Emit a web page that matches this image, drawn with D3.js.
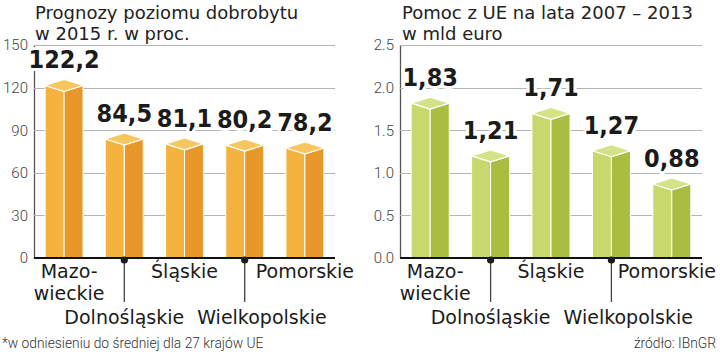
<!DOCTYPE html>
<html>
<head>
<meta charset="utf-8">
<script src="https://cdn.jsdelivr.net/npm/d3@7"></script>
<style>
  html, body { margin: 0; padding: 0; background: #fff; }
  svg { display: block; }
</style>
</head>
<body>
<svg id="chart" width="720" height="356"></svg>
<script>
// ---- data ----
const categories = ["Mazowieckie", "Dolnośląskie", "Śląskie", "Wielkopolskie", "Pomorskie"];
const categoryLines = [["Mazo-", "wieckie"], ["Dolnośląskie"], ["Śląskie"], ["Wielkopolskie"], ["Pomorskie"]];
const categoryRow = [1, 2, 1, 2, 1];
const wealthValues = [122.2, 84.5, 81.1, 80.2, 78.2];
const wealthLabels = ["122,2", "84,5", "81,1", "80,2", "78,2"];
const wealthTicks = [0, 30, 60, 90, 120, 150];
const aidValues = [1.83, 1.21, 1.71, 1.27, 0.88];
const aidLabels = ["1,83", "1,21", "1,71", "1,27", "0,88"];
const aidTicks = [0, 0.5, 1.0, 1.5, 2.0, 2.5];
const titleLeft = ["Prognozy poziomu dobrobytu", "w 2015 r. w proc."];
const titleRight = ["Pomoc z UE na lata 2007 – 2013", "w mld euro"];
const footnote = "*w odniesieniu do średniej dla 27 krajów UE";
const source = "źródło: IBnGR";

const svg = d3.select("#chart");
const BASE = 258, TOP = 45;

function drawPanel(opts) {
  const g = svg.append("g");
  const x = d3.scaleBand().domain(categories).range([opts.x0, opts.x1])
    .paddingInner(0.37).paddingOuter(0.185);
  const y = d3.scaleLinear().domain([0, opts.max]).range([BASE, TOP]);

  // title
  const t = g.append("text").attr("x", opts.titleX).attr("y", 19)
    .attr("font-family", "DejaVu Sans, sans-serif").attr("font-size", 18).attr("fill", "#222");
  opts.title.forEach((line, i) => {
    t.append("tspan").attr("x", opts.titleX).attr("y", 19 + i * 21).text(line);
  });

  // y axis via d3.axisLeft
  const axis = d3.axisLeft(y).tickValues(opts.ticks).tickFormat(opts.fmt).tickSize(0).tickPadding(6);
  const ag = g.append("g").attr("transform", `translate(${opts.x0},0)`).call(axis);
  ag.select(".domain").attr("stroke", "#555").attr("stroke-width", 1.3);
  ag.selectAll("text").attr("font-family", "Roboto, sans-serif").attr("font-weight", 300)
    .attr("font-size", 15).attr("fill", "#444");

  // grid lines
  g.append("g").selectAll("line").data(opts.ticks.filter(d => d > 0)).join("line")
    .attr("x1", opts.x0).attr("x2", opts.x1)
    .attr("y1", d => Math.round(y(d)) + 0.5).attr("y2", d => Math.round(y(d)) + 0.5)
    .attr("stroke", "#b4b4b4").attr("stroke-width", 1);

  // bars (3D boxes)
  const bw = x.bandwidth();
  const bars = g.append("g").selectAll("g").data(opts.values).join("g");
  bars.each(function(v, i) {
    const b = d3.select(this);
    const x0 = x(categories[i]), x1 = x0 + bw, xc = x0 + bw / 2;
    const yv = y(v);
    const side = yv + 1, back = yv - 5, front = yv + 7;
    b.append("path")
      .attr("d", `M${x0},${side}L${xc},${front}L${xc},${BASE}L${x0},${BASE}Z`)
      .attr("fill", opts.colors.left).attr("stroke", "#fff").attr("stroke-width", 1).attr("stroke-linejoin", "round");
    b.append("path")
      .attr("d", `M${xc},${front}L${x1},${side}L${x1},${BASE}L${xc},${BASE}Z`)
      .attr("fill", opts.colors.right).attr("stroke", "#fff").attr("stroke-width", 1).attr("stroke-linejoin", "round");
    b.append("path")
      .attr("d", `M${x0},${side}L${xc},${back}L${x1},${side}L${xc},${front}Z`)
      .attr("fill", opts.colors.top).attr("stroke", "#fff").attr("stroke-width", 1.2).attr("stroke-linejoin", "round");
  });

  // baseline
  g.append("line").attr("x1", opts.x0).attr("x2", opts.x1)
    .attr("y1", BASE).attr("y2", BASE).attr("stroke", "#111").attr("stroke-width", 2);

  // value labels
  g.append("g").selectAll("text").data(opts.values).join("text")
    .attr("x", (d, i) => x(categories[i]) + bw / 2)
    .attr("y", d => y(d) - 16)
    .attr("text-anchor", "middle")
    .attr("font-family", "'DejaVu Sans Condensed', 'DejaVu Sans', sans-serif")
    .attr("font-stretch", "condensed")
    .attr("font-weight", "bold").attr("font-size", 25).attr("fill", "#1b1b1b")
    .attr("stroke", "#fff").attr("stroke-width", 6).attr("paint-order", "stroke")
    .attr("stroke-linejoin", "round")
    .text((d, i) => opts.labels[i]);

  // category labels
  const lg = g.append("g").attr("font-family", "DejaVu Sans, sans-serif").attr("font-size", 19).attr("fill", "#1b1b1b");
  let prevRight = -Infinity;
  categories.forEach((c, i) => {
    const xc = x(c) + bw / 2;
    if (categoryRow[i] === 1) {
      const txt = lg.append("text").attr("text-anchor", "middle");
      const cx = categoryLines[i].length > 1 ? xc + 5 : xc;
      categoryLines[i].forEach((line, k) => {
        txt.append("tspan").attr("x", cx).attr("y", 278 + k * 22).text(line);
      });
      const bb = txt.node().getBBox();
      if (bb.x + bb.width > 716) txt.selectAll("tspan").attr("x", cx - (bb.x + bb.width - 716));
    } else {
      g.append("line").attr("x1", xc).attr("x2", xc).attr("y1", 260).attr("y2", 302)
        .attr("stroke", "#444").attr("stroke-width", 1.3);
      g.append("circle").attr("cx", xc).attr("cy", 260).attr("r", 3.6).attr("fill", "#1b1b1b");
      const txt = lg.append("text").attr("text-anchor", "middle").attr("x", xc).attr("y", 324).text(categoryLines[i][0]);
      const bb = txt.node().getBBox();
      let left = bb.x;
      if (left < prevRight + 13) {
        const shift = prevRight + 13 - left;
        txt.attr("x", xc + shift);
        left += shift;
      }
      prevRight = left + bb.width;
    }
  });
}

drawPanel({
  x0: 34, x1: 335, max: 150, ticks: wealthTicks, fmt: d3.format("d"),
  values: wealthValues, labels: wealthLabels, title: titleLeft, titleX: 35,
  colors: { left: "#f3b33e", right: "#e8982b", top: "#f7c65c" }
});
drawPanel({
  x0: 400, x1: 702, max: 2.5, ticks: aidTicks, fmt: d3.format(".1f"),
  values: aidValues, labels: aidLabels, title: titleRight, titleX: 402,
  colors: { left: "#c9d86c", right: "#abbd40", top: "#d5e388" }
});

svg.append("text").attr("x", 2).attr("y", 348)
  .attr("font-family", "Roboto, sans-serif").attr("font-weight", 300).attr("font-size", 13.8)
  .attr("fill", "#333").text(footnote);
svg.append("text").attr("x", 716).attr("y", 348).attr("text-anchor", "end")
  .attr("font-family", "Roboto, sans-serif").attr("font-weight", 300).attr("font-size", 13.8)
  .attr("fill", "#333").text(source);
</script>
</body>
</html>
